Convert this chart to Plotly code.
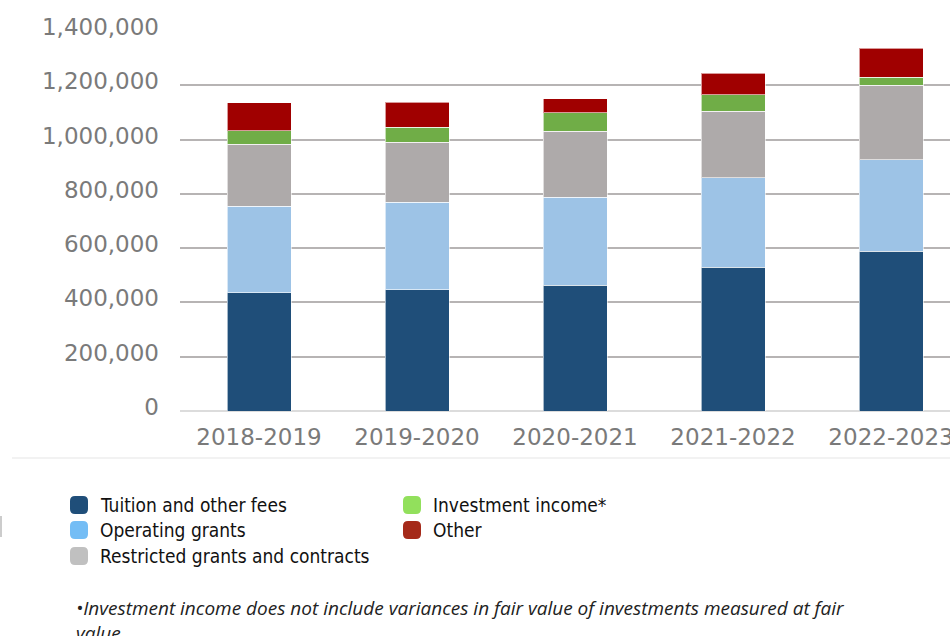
import plotly.graph_objects as go

# Revenue by source, fiscal years
years = ["2018-2019", "2019-2020", "2020-2021", "2021-2022", "2022-2023"]
tuition = [435000, 446000, 464000, 530000, 589000]
operating = [320000, 324000, 324000, 329000, 337000]
restricted = [228000, 221000, 243000, 246000, 274000]
investment = [49000, 54000, 67000, 60000, 30000]
other = [103000, 93000, 52000, 80000, 107000]

series_names = ["Tuition and other fees", "Operating grants", "Restricted grants and contracts",
                "Investment income*", "Other"]
bar_colors = ["#1f4e79", "#9dc3e6", "#aeaaaa", "#70ad47", "#a00000"]
legend_colors = ["#1f4e79", "#74bdf5", "#c0c0c0", "#92e05c", "#a52a1a"]
y_ticks = [0, 200000, 400000, 600000, 800000, 1000000, 1200000, 1400000]

W, H = 950, 636
PL, PR, PT, PB = 180, 950, 31, 411  # plot area in pixels


def px(x):
    return (x - PL) / (PR - PL)


def py(y):
    return (PB - y) / (PB - PT)


def rounded_square(x0, y0, s, r):
    """SVG path (paper coords) of a rounded square given in pixels (top-left x0, y0)."""
    x1, y1 = x0 + s, y0 + s
    pts = [
        f"M {px(x0 + r)},{py(y0)}", f"L {px(x1 - r)},{py(y0)}",
        f"Q {px(x1)},{py(y0)} {px(x1)},{py(y0 + r)}", f"L {px(x1)},{py(y1 - r)}",
        f"Q {px(x1)},{py(y1)} {px(x1 - r)},{py(y1)}", f"L {px(x0 + r)},{py(y1)}",
        f"Q {px(x0)},{py(y1)} {px(x0)},{py(y1 - r)}", f"L {px(x0)},{py(y0 + r)}",
        f"Q {px(x0)},{py(y0)} {px(x0 + r)},{py(y0)}", "Z",
    ]
    return " ".join(pts)


fig = go.Figure()
for name, vals, col in zip(series_names, [tuition, operating, restricted, investment, other], bar_colors):
    fig.add_trace(go.Bar(
        x=years, y=vals, name=name,
        marker=dict(color=col, line=dict(color="rgba(255,255,255,0.6)", width=1)),
        showlegend=False,
    ))

tick_font = dict(family="DejaVu Sans", size=23, color="#7a7a7a")
fig.update_layout(
    width=W, height=H,
    margin=dict(l=PL, r=W - PR, t=PT, b=H - PB),
    barmode="stack", bargap=0.595,
    plot_bgcolor="white", paper_bgcolor="white",
    xaxis=dict(range=[-0.5, 4.373], tickfont=tick_font, showgrid=False, automargin=False,
               showline=False, ticks="", ticklabelstandoff=10),
    yaxis=dict(range=[0, 1400000], tickvals=y_ticks, tickformat=",d", automargin=False,
               tickfont=tick_font, gridcolor="#b7b4b4", gridwidth=2,
               zeroline=True, zerolinecolor="#dcdcdc", zerolinewidth=2,
               ticks="", ticklabelstandoff=20, ticklabelshift=-4),
    font=dict(family="DejaVu Sans"),
)

# Custom two-column legend
legend_pos = [(70, 505), (70, 530), (70, 556), (403, 505), (403, 530)]
for (lx, ly), name, col in zip(legend_pos, series_names, legend_colors):
    s = 18
    fig.add_shape(type="path", xref="paper", yref="paper",
                  path=rounded_square(lx, ly - s / 2, s, 5),
                  fillcolor=col, line=dict(width=0), layer="above")
    fig.add_annotation(x=px(lx + 28), y=py(ly), xref="paper", yref="paper",
                       text=name, showarrow=False, xanchor="left", yanchor="middle",
                       font=dict(family="DejaVu Sans Condensed", size=19, color="#111111"))

# Footnote (second line runs off the bottom edge)
note_font = dict(family="Open Sans", size=19, color="#222222")
fig.add_annotation(x=px(74), y=py(593), xref="paper", yref="paper",
                   text="<i>•Investment income does not include variances in fair value of investments measured at fair<br>value.</i>",
                   showarrow=False, xanchor="left", yanchor="top", align="left", font=note_font)

# Faint separator under the chart
fig.add_shape(type="line", xref="paper", yref="paper", x0=px(12), x1=1,
              y0=py(458), y1=py(458), line=dict(color="#f2f2f2", width=2))
fig.add_shape(type="line", xref="paper", yref="paper", x0=px(1), x1=px(1),
              y0=py(516), y1=py(537), line=dict(color="#999999", width=1))

fig.write_html("out.html")
